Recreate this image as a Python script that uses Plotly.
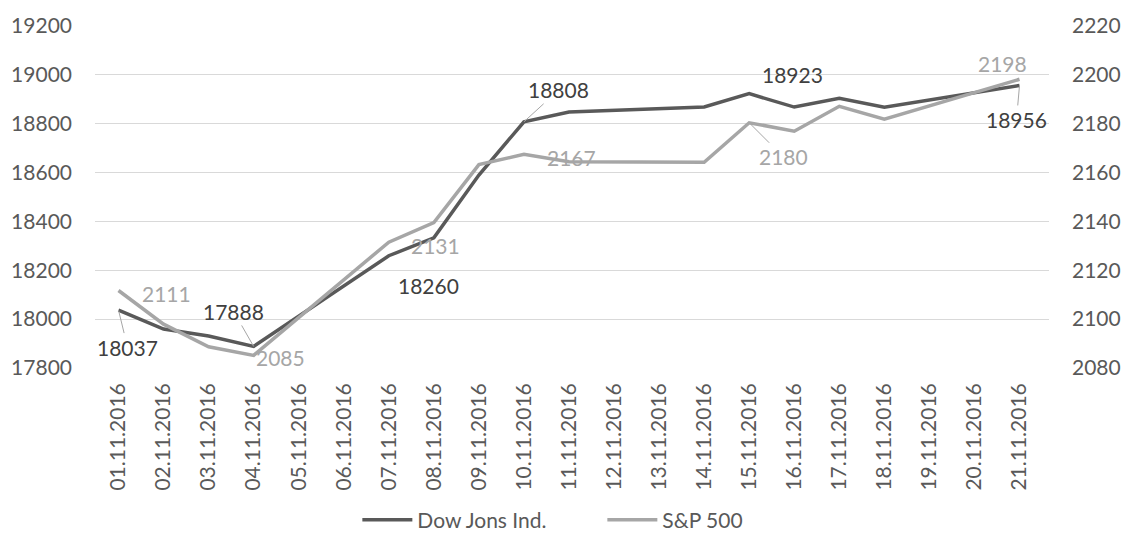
import plotly.graph_objects as go

dates = ["01.11.2016", "02.11.2016", "03.11.2016", "04.11.2016", "05.11.2016",
         "06.11.2016", "07.11.2016", "08.11.2016", "09.11.2016", "10.11.2016",
         "11.11.2016", "12.11.2016", "13.11.2016", "14.11.2016", "15.11.2016",
         "16.11.2016", "17.11.2016", "18.11.2016", "19.11.2016", "20.11.2016",
         "21.11.2016"]
dow = [18037.10, 17959.64, 17930.67, 17888.28, None, None, 18259.60, 18332.74,
       18589.69, 18807.88, 18847.66, None, None, 18868.69, 18923.06, 18868.14,
       18903.82, 18867.93, None, None, 18956.69]
spx = [2111.72, 2097.94, 2088.66, 2085.18, None, None, 2131.52, 2139.56,
       2163.26, 2167.48, 2164.45, None, None, 2164.20, 2180.39, 2176.94,
       2187.12, 2181.90, None, None, 2198.18]
left_ticks = [17800, 18000, 18200, 18400, 18600, 18800, 19000, 19200]
right_ticks = [2080, 2100, 2120, 2140, 2160, 2180, 2200, 2220]

# labelled points: (index, text, dx, dy, leader)
dow_labels = [(0, "18037", 9, 37, True), (3, "17888", -20, -35, True),
              (6, "18260", 40, 30, False), (9, "18808", 35, -32, True),
              (14, "18923", 43, -19, False), (20, "18956", -3, 34, True)]
spx_labels = [(0, "2111", 48, 3, False), (3, "2085", 27, 2, False),
              (6, "2131", 47, 3, False), (9, "2167", 48, 3, False),
              (14, "2180", 34, 34, True), (20, "2198", -17, -16, False)]

DARK = "#595959"
LIGHT = "#A6A6A6"
FONT = "Lato"
FS = 21

fig = go.Figure()
fig.add_trace(go.Scatter(x=dates, y=dow, name="Dow Jons Ind.", mode="lines",
                         line=dict(color=DARK, width=3.5), connectgaps=True))
fig.add_trace(go.Scatter(x=dates, y=spx, name="S&P 500", mode="lines",
                         line=dict(color=LIGHT, width=3.5), connectgaps=True,
                         yaxis="y2"))

annotations = []
for series, labels, yref, col in ((dow, dow_labels, "y", "#404040"),
                                  (spx, spx_labels, "y2", LIGHT)):
    for i, txt, dx, dy, leader in labels:
        a = dict(x=dates[i], y=series[i], xref="x", yref=yref, text=txt,
                 font=dict(family=FONT, size=FS, color=col))
        if leader:
            a.update(showarrow=True, arrowhead=0, arrowwidth=1,
                     arrowcolor=LIGHT, ax=dx, ay=dy)
        else:
            a.update(showarrow=False, xshift=dx, yshift=-dy)
        annotations.append(a)

fig.update_layout(
    width=1122, height=538,
    margin=dict(l=95, r=73, t=26, b=170, autoexpand=False),
    paper_bgcolor="white", plot_bgcolor="white",
    font=dict(family=FONT, size=FS, color=DARK),
    showlegend=True,
    legend=dict(orientation="h", x=0.275, xanchor="left", y=-0.445,
                yanchor="middle", font=dict(family=FONT, size=FS, color=DARK),
                itemwidth=50, entrywidth=180, entrywidthmode="pixels",
                bgcolor="rgba(0,0,0,0)"),
    xaxis=dict(type="category", categoryorder="array", categoryarray=dates,
               tickangle=-90, showgrid=False, showline=False, zeroline=False,
               ticks="", ticklabelstandoff=10, automargin=False,
               tickfont=dict(family=FONT, size=FS, color=DARK)),
    yaxis=dict(range=[17800, 19200], tickvals=left_ticks,
               ticktext=[str(v) for v in left_ticks], automargin=False,
               showgrid=True, gridcolor="#D9D9D9", gridwidth=1.3,
               zeroline=False, showline=False, ticks="", ticklabelstandoff=22,
               tickfont=dict(family=FONT, size=FS, color=DARK)),
    yaxis2=dict(range=[2080, 2220], tickvals=right_ticks,
                ticktext=[str(v) for v in right_ticks], overlaying="y",
                side="right", showgrid=False, zeroline=False, showline=False,
                ticks="", ticklabelstandoff=22, automargin=False,
                tickfont=dict(family=FONT, size=FS, color=DARK)),
    annotations=annotations,
)

fig.write_html("out.html")
